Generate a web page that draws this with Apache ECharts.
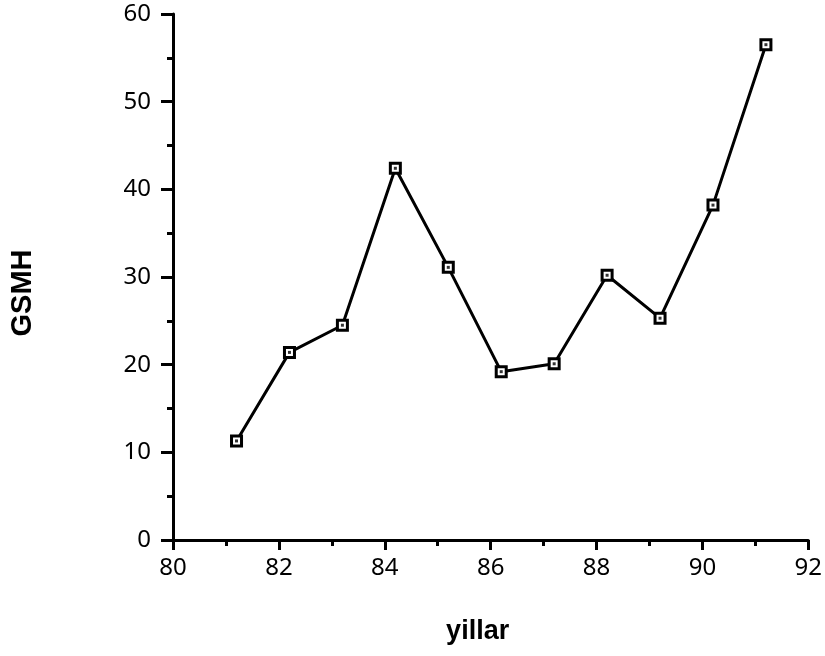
<!DOCTYPE html>
<html><head><meta charset="utf-8">
<script src="https://cdn.jsdelivr.net/npm/echarts@6/dist/echarts.min.js"></script>
<style>html,body{margin:0;padding:0;background:#fff}#c{width:825px;height:656px}</style>
</head><body><div id="c"></div>
<script>
const years = [81.2, 82.2, 83.2, 84.2, 85.2, 86.2, 87.2, 88.2, 89.2, 90.2, 91.2];
const gsmh = [11.3, 21.4, 24.5, 42.4, 31.1, 19.2, 20.1, 30.2, 25.3, 38.2, 56.5];
const xTicks = [80, 82, 84, 86, 88, 90, 92];
const yTicks = [0, 10, 20, 30, 40, 50, 60];
const pts = years.map((x, i) => [x, gsmh[i]]);
const chart = echarts.init(document.getElementById('c'));
const font = 'Noto Sans';
chart.setOption({
  animation: false,
  grid: {left: 172, right: 15, top: 14, bottom: 116},
  xAxis: {
    type: 'value', min: xTicks[0], max: xTicks[xTicks.length-1], interval: 2,
    name: 'yillar', nameLocation: 'middle', nameGap: 78,
    nameTextStyle: {fontFamily: 'Liberation Sans', fontWeight: 'bold', fontSize: 27, color: '#000', padding: [0, 26, 0, 0]},
    axisLine: {lineStyle: {color: '#000', width: 3}},
    axisTick: {show: true, length: 10, inside: false, lineStyle: {color: '#000', width: 3}},
    minorTick: {show: true, splitNumber: 2, length: 6, lineStyle: {color: '#000', width: 3}},
    axisLabel: {fontFamily: font, fontSize: 24, color: '#000', margin: 16},
    splitLine: {show: false}
  },
  yAxis: {
    type: 'value', min: yTicks[0], max: yTicks[yTicks.length-1], interval: 10,
    name: 'GSMH', nameLocation: 'middle', nameGap: 136, nameRotate: 90,
    nameTextStyle: {fontFamily: 'Liberation Sans', fontWeight: 'bold', fontSize: 29, color: '#000', padding: [0, 32, 0, 0]},
    axisLine: {show: true, lineStyle: {color: '#000', width: 3}},
    axisTick: {show: true, length: 12, lineStyle: {color: '#000', width: 3}},
    minorTick: {show: true, splitNumber: 2, length: 6, lineStyle: {color: '#000', width: 3}},
    axisLabel: {fontFamily: font, fontSize: 24, color: '#000', margin: 22},
    splitLine: {show: false}
  },
  series: [
    {type: 'line', data: pts, symbol: 'rect', symbolSize: 10, showSymbol: true,
     lineStyle: {color: '#000', width: 3},
     itemStyle: {color: '#fff', borderColor: '#000', borderWidth: 3}},
    {type: 'scatter', data: pts, symbol: 'rect', symbolSize: 3,
     itemStyle: {color: '#000'}, z: 5}
  ]
});
</script></body></html>
